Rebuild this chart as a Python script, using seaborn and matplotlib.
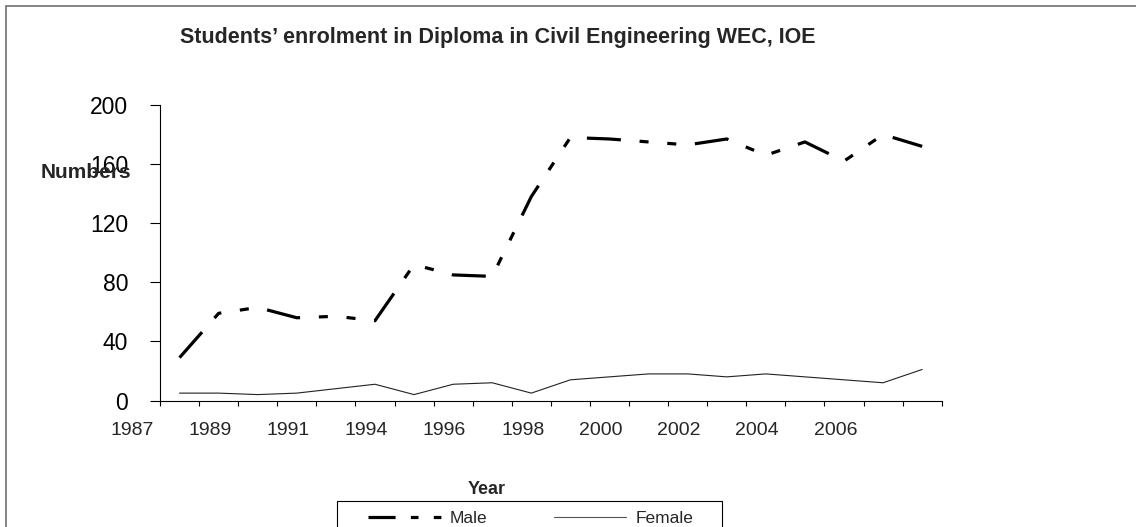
import numpy as np
import pandas as pd
import matplotlib
matplotlib.use("Agg")
import matplotlib.pyplot as plt
import matplotlib.transforms as mtransforms
from matplotlib.patches import Rectangle
from matplotlib.lines import Line2D
import seaborn as sns

# Enrolment counts per intake (20 intakes)
male = [29, 59, 63, 56, 57, 54, 92, 85, 84, 138,
        178, 177, 175, 173, 177, 166, 175, 162, 180, 172]
female = [5, 5, 4, 5, 8, 11, 4, 11, 12, 5,
          14, 16, 18, 18, 16, 18, 16, 14, 12, 21]
year_labels = ["1987", "1989", "1991", "1994", "1996",
               "1998", "2000", "2002", "2004", "2006"]
y_ticks = [0, 40, 80, 120, 160, 200]

df = pd.DataFrame({"intake": np.arange(len(male)), "Male": male, "Female": female})

sns.set_style("ticks")
plt.rcParams["font.family"] = ["Liberation Sans", "DejaVu Sans"]
plt.rcParams["lines.scale_dashes"] = False

W, H = 1136, 527
fig = plt.figure(figsize=(W / 100, H / 100), dpi=100)
ax = fig.add_axes([160 / W, 1 - 400.5 / H, 781.7 / W, 295.5 / H])

male_dash = (0, (24.5, 13.5, 6.5, 13.5, 6.5, 13.5))
sns.lineplot(data=df, x="intake", y="Male", ax=ax, color="black",
             linewidth=2.3, linestyle=male_dash, label="Male", legend=False)
sns.lineplot(data=df, x="intake", y="Female", ax=ax, color="#222222",
             linewidth=0.8, label="Female", legend=False)

ax.set_xlim(-0.5, len(male) - 0.5)
ax.set_ylim(0, 200)
ax.set_yticks(y_ticks)
ax.set_yticklabels([str(v) for v in y_ticks], fontsize=16.5)
ax.set_xticks(np.arange(-0.5, len(male), 1.0))
ax.set_xticklabels([])
ax.tick_params(axis="y", direction="out", length=7, width=0.8, pad=16, colors="black")
ax.tick_params(axis="x", direction="out", length=3.6, width=0.8, colors="black")
ax.set_xlabel("")
ax.set_ylabel("")
for side in ("top", "right"):
    ax.spines[side].set_visible(False)
for side in ("left", "bottom"):
    ax.spines[side].set_linewidth(0.8)
    ax.spines[side].set_color("black")

# year labels sit every second intake, shifted left of the intake centres
trans = mtransforms.blended_transform_factory(ax.transData, ax.transAxes)
for k, lab in enumerate(year_labels):
    ax.text(-1.22 + 2 * k, -0.1, lab, transform=trans, ha="center", va="center",
            fontsize=14, clip_on=False)

fig.text(498 / W, 1 - 37 / H, "Students\u2019 enrolment in Diploma in Civil Engineering WEC, IOE",
         ha="center", va="center", fontsize=15.5, fontweight="bold")
fig.text(86 / W, 1 - 173 / H, "Numbers", ha="center", va="center",
         fontsize=15, fontweight="bold")
fig.text(487 / W, 1 - 489 / H, "Year", ha="center", va="center",
         fontsize=13, fontweight="bold")

# legend box, open at the bottom edge of the figure
fig.add_artist(Rectangle((337 / W, -0.05), 385 / W, 0.05 + 1 - 501 / H,
                         transform=fig.transFigure, fill=True, facecolor="white",
                         edgecolor="black", linewidth=0.8, zorder=3))
male_line, female_line = ax.get_lines()[:2]
male_key = Line2D([], [], color=male_line.get_color(), linewidth=male_line.get_linewidth(),
                  linestyle=(0, (19.5, 11, 5.5, 11, 5.5, 11)))
female_key = Line2D([], [], color="#555555", linewidth=female_line.get_linewidth())
leg = fig.legend(handles=[male_key, female_key], labels=["Male", "Female"], ncol=2,
                 loc="center left", bbox_to_anchor=(368 / W, 1 - 518 / H),
                 bbox_transform=fig.transFigure, frameon=False,
                 borderpad=0, handlelength=4.2, handletextpad=0.52,
                 columnspacing=3.8, borderaxespad=0, prop={"size": 12.5})
leg.set_zorder(4)

# outer frame around the chart area
fig.add_artist(Rectangle((6 / W, -0.5), 2.0, 1.5 - 5.5 / H, transform=fig.transFigure,
                         fill=False, edgecolor="#707070", linewidth=1.2))

fig.savefig("out.png", dpi=100)
